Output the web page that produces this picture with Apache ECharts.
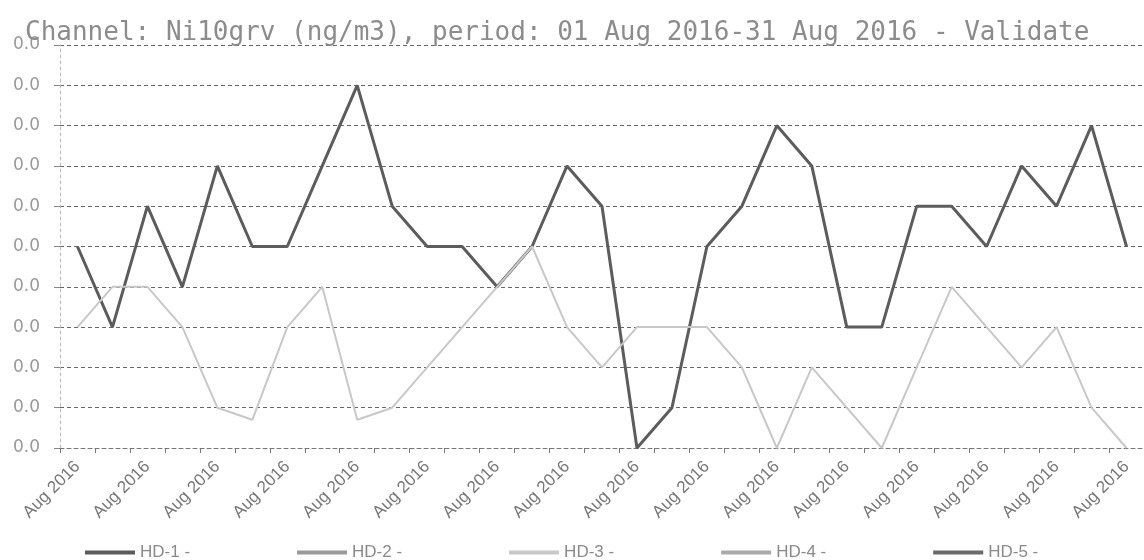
<!DOCTYPE html>
<html>
<head>
<meta charset="utf-8">
<script src="https://cdn.jsdelivr.net/npm/echarts@6/dist/echarts.min.js"></script>
<style>
  html, body { margin: 0; background: #fff; }
  #main { width: 1144px; height: 560px; }
</style>
</head>
<body>
<div id="main"></div>
<script>
// categories: every day of August 2016
const days = [];
for (let d = 1; d <= 31; d++) days.push((d < 10 ? '0' + d : '' + d) + ' Aug 2016');

const seriesNames = ['HD-1', 'HD-2', 'HD-3', 'HD-4', 'HD-5'];

// ng/m3 values
const hd1 = [0.005, 0.003, 0.006, 0.004, 0.007, 0.005, 0.005, 0.007, 0.009, 0.006,
             0.005, 0.005, 0.004, 0.005, 0.007, 0.006, 0.000, 0.001, 0.005, 0.006,
             0.008, 0.007, 0.003, 0.003, 0.006, 0.006, 0.005, 0.007, 0.006, 0.008,
             0.005];
const hd3 = [0.003, 0.004, 0.004, 0.003, 0.001, 0.0007, 0.003, 0.004, 0.0007, 0.001,
             0.002, 0.003, 0.004, 0.005, 0.003, 0.002, 0.003, 0.003, 0.003, 0.002,
             0.000, 0.002, 0.001, 0.000, 0.002, 0.004, 0.003, 0.002, 0.003, 0.001,
             0.000];
const hd2 = [];
const hd4 = [];
const hd5 = [];

const yMin = 0, yMax = 0.010, yStep = 0.001;

const colors = ['#5c5c5c', '#9a9a9a', '#c8c8c8', '#aaaaaa', '#6a6a6a'];
const widths = [3, 2, 2, 2, 3];
const allData = [hd1, hd2, hd3, hd4, hd5];

let myChart = echarts.init(document.getElementById('main'));

let option = {
  backgroundColor: '#fff',
  animation: false,
  title: {
    text: 'Channel: Ni10grv (ng/m3), period: 01 Aug 2016-31 Aug 2016 - Validate',
    left: 20,
    top: 15,
    textStyle: {
      fontFamily: 'DejaVu Sans Mono',
      fontSize: 26,
      fontWeight: 'normal',
      color: '#8c8c8c'
    }
  },
  grid: { left: 60, right: 0, top: 45, bottom: 112 },
  legend: {
    data: seriesNames,
    left: 85,
    top: 544,
    padding: 0,
    icon: 'rect',
    itemWidth: 50,
    itemHeight: 4,
    itemGap: 107,
    formatter: '{name} -',
    textStyle: { fontFamily: 'Liberation Sans', fontSize: 17, color: '#8a8a8a' }
  },
  xAxis: {
    type: 'category',
    data: days,
    boundaryGap: true,
    axisLine: { lineStyle: { color: '#777', type: [4, 3] } },
    axisTick: { show: true, interval: 0, length: 5, lineStyle: { color: '#777' } },
    axisLabel: {
      interval: 1,
      rotate: 45,
      margin: 16,
      fontFamily: 'Liberation Sans',
      fontSize: 17,
      color: '#777',
      formatter: function (v) { return v.slice(3); }
    },
    splitLine: { show: false }
  },
  yAxis: {
    type: 'value',
    min: yMin,
    max: yMax,
    interval: yStep,
    axisLine: { show: true, lineStyle: { color: '#bbb', type: [3, 3] } },
    axisTick: { show: true, length: 6, lineStyle: { color: '#888' } },
    axisLabel: {
      margin: 20,
      fontFamily: 'DejaVu Sans',
      fontSize: 17,
      color: '#999',
      formatter: function (v) { return v.toFixed(1); }
    },
    splitLine: { show: true, lineStyle: { color: '#666', type: [4, 3], width: 1 } }
  },
  series: seriesNames.map(function (name, i) {
    return {
      name: name,
      type: 'line',
      data: allData[i],
      symbol: 'none',
      color: colors[i],
      lineStyle: { color: colors[i], width: widths[i] }
    };
  })
};

myChart.setOption(option);
</script>
</body>
</html>
